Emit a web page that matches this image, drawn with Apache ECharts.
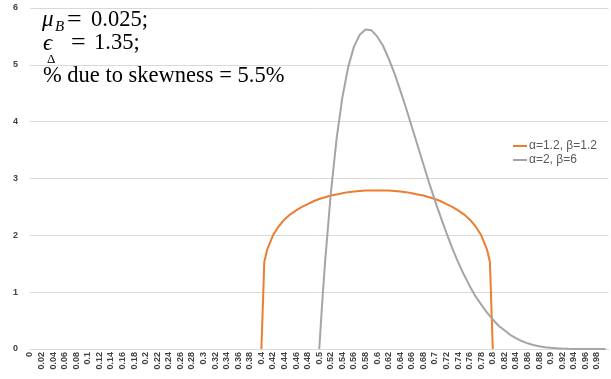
<!DOCTYPE html>
<html>
<head>
<meta charset="utf-8">
<script src="https://cdn.jsdelivr.net/npm/echarts@6/dist/echarts.min.js"></script>
<style>html,body{margin:0;padding:0;background:#fff;}#c{width:611px;height:379px;}</style>
</head>
<body>
<div id="c"></div>
<script>
var orangeName = 'α=1.2, β=1.2';
var grayName = 'α=2, β=6';
var orangeX = [0.4,0.405,0.41,0.42,0.43,0.44,0.45,0.46,0.47,0.48,0.49,0.5,0.51,0.52,0.53,0.54,0.55,0.56,0.57,0.58,0.59,0.6,0.61,0.62,0.63,0.64,0.65,0.66,0.67,0.68,0.69,0.7,0.71,0.72,0.73,0.74,0.75,0.76,0.77,0.78,0.79,0.795,0.8];
var orangeY = [0,1.53,1.75,2.00,2.16,2.28,2.37,2.44,2.50,2.55,2.60,2.64,2.67,2.70,2.72,2.74,2.76,2.77,2.78,2.79,2.79,2.79,2.79,2.79,2.78,2.77,2.76,2.74,2.72,2.70,2.67,2.64,2.60,2.55,2.50,2.44,2.37,2.28,2.16,2.00,1.75,1.53,0];
var grayX = [0.5,0.505,0.51,0.52,0.53,0.54,0.55,0.56,0.57,0.58,0.59,0.6,0.61,0.62,0.63,0.64,0.65,0.66,0.67,0.68,0.69,0.7,0.71,0.72,0.73,0.74,0.75,0.76,0.77,0.78,0.79,0.8,0.81,0.82,0.83,0.84,0.85,0.86,0.87,0.88,0.89,0.9,0.91,0.92,0.93,0.94,0.95,0.96,0.97,0.98,0.99,0.995];
var grayY = [0,0.80,1.52,2.74,3.70,4.43,4.96,5.32,5.53,5.62,5.61,5.50,5.34,5.11,4.85,4.55,4.24,3.91,3.58,3.25,2.92,2.61,2.32,2.04,1.77,1.53,1.31,1.11,0.93,0.78,0.64,0.52,0.41,0.33,0.25,0.19,0.14,0.10,0.07,0.05,0.03,0.02,0.013,0.007,0.004,0.002,0.001,0,0,0,0,0];
var yTicks = {min: 0, max: 6, interval: 1};
var xTicks = {min: 0, max: 1, interval: 0.02};
var noteValues = ['0.025;', '1.35;'];
var noteLine3 = '% due to skewness = 5.5%';

function pairs(xs, ys) { return xs.map(function (x, i) { return [x, ys[i]]; }); }

var chart = echarts.init(document.getElementById('c'));
var serif = '"Liberation Serif", "DejaVu Serif", serif';
function t(x, y, s, font) { return {type: 'text', x: x, y: y, style: {text: s, font: font, fill: '#000', verticalAlign: 'middle', align: 'left'}}; }
chart.setOption({
  animation: false,
  backgroundColor: '#fff',
  grid: {left: 30, right: 2.5, top: 8, bottom: 30, containLabel: false},
  xAxis: {
    type: 'value', min: xTicks.min, max: xTicks.max, interval: xTicks.interval,
    axisLine: {show: true, lineStyle: {color: '#d9d9d9'}},
    axisTick: {show: false},
    splitLine: {show: false},
    axisLabel: {
      rotate: 90, margin: 3, fontSize: 9, color: '#404040', fontFamily: 'Liberation Sans, Arial, sans-serif', fontWeight: 'bold',
      showMaxLabel: false, hideOverlap: false,
      formatter: function (v) { if (v >= 0.999) return ''; return String(Math.round(v * 100) / 100); }
    }
  },
  yAxis: {
    type: 'value', min: yTicks.min, max: yTicks.max, interval: yTicks.interval,
    axisLine: {show: false}, axisTick: {show: false},
    splitLine: {lineStyle: {color: '#d9d9d9', width: 1}},
    axisLabel: {margin: 12, fontSize: 9, color: '#404040', fontFamily: 'Liberation Sans, Arial, sans-serif', fontWeight: 'bold'}
  },
  legend: {
    orient: 'vertical', left: 508, top: 135, itemGap: 2,
    itemWidth: 14, itemHeight: 2, icon: 'rect',
    textStyle: {fontSize: 12, color: '#595959', fontFamily: 'Liberation Sans, Arial, sans-serif', padding: [0, 0, 0, -3]},
    data: [orangeName, grayName]
  },
  series: [
    {name: orangeName, type: 'line', data: pairs(orangeX, orangeY), showSymbol: false, lineStyle: {color: '#ED7D31', width: 2}, itemStyle: {color: '#ED7D31'}},
    {name: grayName, type: 'line', data: pairs(grayX, grayY), showSymbol: false, lineStyle: {color: '#A5A5A5', width: 2}, itemStyle: {color: '#A5A5A5'}}
  ],
  graphic: [
    t(42, 20, 'μ', 'italic 23px ' + serif),
    t(55, 27, 'B', 'italic 15px ' + serif),
    t(67, 20, '=', '26px ' + serif),
    t(91, 20, noteValues[0], '22.5px ' + serif),
    t(43, 44, 'ϵ', 'italic 23px ' + serif),
    t(47, 60, 'Δ', '13px ' + serif),
    t(71, 43, '=', '26px ' + serif),
    t(94, 43, noteValues[1], '22.5px ' + serif),
    t(43, 76, noteLine3, '22.5px ' + serif)
  ]
});
</script>
</body>
</html>
